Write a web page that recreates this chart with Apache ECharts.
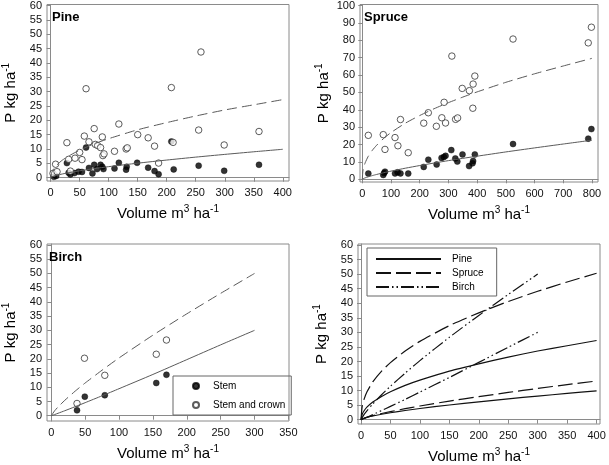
<!DOCTYPE html>
<html><head><meta charset="utf-8">
<script src="https://cdn.jsdelivr.net/npm/echarts@6/dist/echarts.min.js"></script>
<style>html,body{margin:0;padding:0;background:#fff}#c{width:609px;height:465px}</style>
</head><body><div id="c"></div>
<script>
// ---------- tick labels ----------
const pineXTicks = [0, 50, 100, 150, 200, 250, 300, 350, 400];
const yTicks60 = [0, 5, 10, 15, 20, 25, 30, 35, 40, 45, 50, 55, 60];
const spruceXTicks = [0, 100, 200, 300, 400, 500, 600, 700, 800];
const spruceYTicks = [0, 10, 20, 30, 40, 50, 60, 70, 80, 90, 100];
const birchXTicks = [0, 50, 100, 150, 200, 250, 300, 350];
const allXTicks = [0, 50, 100, 150, 200, 250, 300, 350, 400];

// ---------- observations [volume, P] ----------
const pineStem = [[5.5,0.3],[9.5,0.6],[28,5.1],[31,1.7],[34,1.1],[41,1.6],[48,2.1],[54,2],[61,10.5],[66,3.4],[72,1.5],[75,4.5],[80,3],[86,4.5],[89,3.8],[91,3],[110,3.2],[117.5,5.2],[130,2.8],[131,3.8],[149,5.2],[168,3.5],[179,2.3],[186,1.2],[208,12.6],[212,2.9],[255,4.2],[299,2.4],[359,4.5]];
const pineCrown = [[4,1.5],[8.5,4.7],[11,2.1],[28,12.2],[31,6.4],[34,2.3],[42,6.8],[50,8.8],[54,6.3],[58,14.5],[61,31],[66,12.5],[75,17.1],[77,11.6],[81,11.2],[86,10.5],[89,14.2],[90,7.7],[92,8.3],[110,9.2],[117.5,18.7],[130,10],[132,10.4],[150,15],[168,13.9],[179,11],[186,5.1],[208,31.4],[211,12.3],[255,16.6],[259,43.8],[299,11.4],[359,16.1]];
const spruceStem = [[21,3.3],[73,2.5],[76,3.6],[79,4.4],[114,3.4],[123,4.0],[133,3.4],[160,3.3],[214,7.1],[230,11.3],[259,8.5],[276,12.3],[284,12.8],[290,13.5],[310,16.8],[324,12.0],[331,10.2],[349,14.3],[372,7.6],[384,9.2],[386,10.5],[392,14.3],[525,20.3],[787,23.4],[798,28.9]];
const spruceCrown = [[21,25.3],[73,25.7],[79,17.2],[114,24],[124,19.3],[133,34.4],[160,15.3],[214,32.3],[230,38.3],[258,30.5],[277,35.4],[285,44.3],[290,32.4],[325,34.5],[332,35.3],[312,70.9],[348,52.3],[373,51],[386,54.8],[385,40.9],[392,59.4],[525,80.7],[787,78.5],[798,87.5]];
const birchStem = [[38,1.9],[49.5,6.7],[79,7.2],[155,11.5],[170,14.4]];
const birchCrown = [[38,4.3],[49,20.2],[79,14.2],[155,21.6],[170,26.6]];

// ---------- fitted curves [volume, P] ----------
const pineStemFit = [[0,0],[2,0.27],[5,0.5],[10,0.8],[20,1.29],[35,1.88],[50,2.4],[75,3.16],[100,3.85],[150,5.06],[200,6.15],[250,7.17],[300,8.12],[350,9.03],[400,9.9]];
const pineCrownFit = [[0,0],[2,1.9],[5,3.0],[10,4.3],[20,6.1],[35,8.0],[50,9.6],[75,11.8],[100,13.6],[150,16.7],[200,19.2],[250,21.5],[300,23.6],[350,25.4],[400,27.2]];
const spruceStemFit = [[0,0],[2,0.25],[5,0.5],[10,0.84],[20,1.41],[35,2.14],[50,2.8],[75,3.8],[100,4.71],[150,6.39],[200,7.92],[250,9.37],[300,10.74],[350,12.06],[400,13.3],[500,15.75],[600,18.06],[700,20.3],[800,22.5]];
const spruceCrownFit = [[0,0],[2,4.6],[5,6.9],[10,9.5],[20,13],[35,16.7],[50,19.6],[75,23.6],[100,26.9],[150,32.3],[200,36.7],[250,40.6],[300,44.1],[350,47.3],[400,50.3],[500,55.8],[600,60.7],[700,65.2],[800,69.6]];
const birchStemFit = [[0,0],[5,0.41],[10,0.85],[20,1.75],[35,3.15],[50,4.58],[75,7.0],[100,9.49],[150,14.5],[200,19.7],[250,24.9],[300,30.0]];
const birchCrownFit = [[0,0],[5,1.74],[10,3.07],[20,5.42],[35,8.58],[50,11.5],[75,16.0],[100,20.3],[150,28.3],[200,35.8],[250,43.0],[300,50.0]];

const FONT = '"Liberation Sans", Arial, sans-serif';
const AXC = '#8a8a8a';
const sup = {fontSize: 10, fontFamily: FONT, color: '#000', padding: [0, 0, 9, 0]};
const nameStyle = {fontFamily: FONT, fontSize: 15, color: '#000', rich: {sup: sup}};

function xAx(gi, min, max, ticks) {
  return {
    type: 'value', gridIndex: gi, min: min, max: max,
    name: 'Volume m{sup|3} ha{sup|-1}', nameLocation: 'middle', nameGap: 23,
    nameTextStyle: nameStyle,
    splitLine: {show: false},
    axisLine: {show: true, lineStyle: {color: AXC, width: 1}},
    axisTick: {show: true, inside: false, length: 4, lineStyle: {color: AXC}, customValues: ticks},
    axisLabel: {customValues: ticks, fontFamily: FONT, fontSize: 11, color: '#111', margin: 6}
  };
}
function yAx(gi, min, max, ticks) {
  return {
    type: 'value', gridIndex: gi, min: min, max: max,
    name: 'P kg ha{sup|-1}', nameLocation: 'middle', nameGap: 27,
    nameTextStyle: nameStyle,
    splitLine: {show: false},
    axisLine: {show: true, lineStyle: {color: AXC, width: 1}},
    axisTick: {show: true, inside: false, length: 4, lineStyle: {color: AXC}, customValues: ticks},
    axisLabel: {customValues: ticks, fontFamily: FONT, fontSize: 11, color: '#111', margin: 5}
  };
}
function fit(name, gi, data, color, type, width) {
  return {type: 'line', name: name, xAxisIndex: gi, yAxisIndex: gi, data: data, symbol: 'none',
    smooth: 0.2, silent: true, z: 3,
    itemStyle: {color: 'rgba(0,0,0,0)', borderWidth: 0, opacity: 0},
    lineStyle: {color: color, width: width, type: type}};
}
function pts(name, gi, data, filled) {
  return {type: 'scatter', name: name, xAxisIndex: gi, yAxisIndex: gi, data: data,
    symbol: 'circle', symbolSize: filled ? 6 : 6.5, silent: true, z: 2,
    itemStyle: filled ? {color: '#000', borderColor: '#000', borderWidth: 0.5}
                      : {color: '#fff', borderColor: '#333', borderWidth: 1}};
}
const GRAY = '#5a5a5a';
const DASH = [10, 5];
const BIRCHDASH = [13, 3, 1.5, 3, 1.5, 3];

const chart = echarts.init(document.getElementById('c'));
chart.setOption({
  animation: false,
  backgroundColor: '#fff',
  title: [
    {text: 'Pine', left: 52, top: 11, padding: 0, textStyle: {fontFamily: FONT, fontSize: 13, fontWeight: 'bold', color: '#000'}},
    {text: 'Spruce', left: 364, top: 11, padding: 0, textStyle: {fontFamily: FONT, fontSize: 13, fontWeight: 'bold', color: '#000'}},
    {text: 'Birch', left: 49, top: 251, padding: 0, textStyle: {fontFamily: FONT, fontSize: 13, fontWeight: 'bold', color: '#000'}}
  ],
  grid: [
    {left: 43, top: 4, width: 246, height: 177, show: true, borderColor: AXC, borderWidth: 1},
    {left: 360, top: 4, width: 238, height: 178, show: true, borderColor: AXC, borderWidth: 1},
    {left: 44, top: 244, width: 245, height: 177, show: true, borderColor: AXC, borderWidth: 1},
    {left: 358, top: 244, width: 242, height: 181, show: true, borderColor: AXC, borderWidth: 1}
  ],
  xAxis: [
    xAx(0, -6.3, 410.7, pineXTicks),
    xAx(1, -8, 821, spruceXTicks),
    xAx(2, -6.3, 350.9, birchXTicks),
    xAx(3, -5.1, 405.8, allXTicks)
  ],
  yAxis: [
    yAx(0, -1.15, 60.35, yTicks60),
    yAx(1, -1.55, 100.57, spruceYTicks),
    yAx(2, -1.86, 60.35, yTicks60),
    yAx(3, -1.47, 60.34, yTicks60)
  ],
  legend: [
    {data: ['Stem', 'Stem and crown'], orient: 'vertical', left: 173, top: 376,
     padding: [5, 6, 5, 19], itemWidth: 6, itemHeight: 6, itemGap: 9,
     borderColor: '#666', borderWidth: 1, selectedMode: false,
     textStyle: {fontFamily: FONT, fontSize: 10, color: '#000', padding: [0, 0, 0, 9]}},
    {data: ['Pine', 'Spruce', 'Birch'], orient: 'vertical', left: 367, top: 248,
     padding: [6, 13, 4, 8], itemWidth: 65, itemHeight: 10, itemGap: 4,
     borderColor: '#666', borderWidth: 1, selectedMode: false,
     itemStyle: {opacity: 0, color: 'rgba(0,0,0,0)', borderWidth: 0},
     textStyle: {fontFamily: FONT, fontSize: 10, color: '#000', padding: [0, 0, 0, 6]}}
  ],
  series: [
    fit('pine crown fit', 0, pineCrownFit, GRAY, DASH, 1),
    fit('pine stem fit', 0, pineStemFit, GRAY, 'solid', 1),
    pts('pine stem', 0, pineStem, true),
    pts('pine crown', 0, pineCrown, false),

    fit('spruce crown fit', 1, spruceCrownFit, GRAY, DASH, 1),
    fit('spruce stem fit', 1, spruceStemFit, GRAY, 'solid', 1),
    pts('spruce stem', 1, spruceStem, true),
    pts('spruce crown', 1, spruceCrown, false),

    fit('birch crown fit', 2, birchCrownFit, GRAY, DASH, 1),
    fit('birch stem fit', 2, birchStemFit, GRAY, 'solid', 1),
    pts('Stem', 2, birchStem, true),
    pts('Stem and crown', 2, birchCrown, false),

    fit('Pine', 3, pineCrownFit, '#111', 'solid', 1.2),
    fit('Pine', 3, pineStemFit, '#111', 'solid', 1.2),
    fit('Spruce', 3, spruceCrownFit.filter(p => p[0] <= 400), '#111', [15, 5], 1.2),
    fit('Spruce', 3, spruceStemFit.filter(p => p[0] <= 400), '#111', [15, 5], 1.2),
    fit('Birch', 3, birchCrownFit, '#111', BIRCHDASH, 1.2),
    fit('Birch', 3, birchStemFit, '#111', BIRCHDASH, 1.2)
  ]
});
</script></body></html>
